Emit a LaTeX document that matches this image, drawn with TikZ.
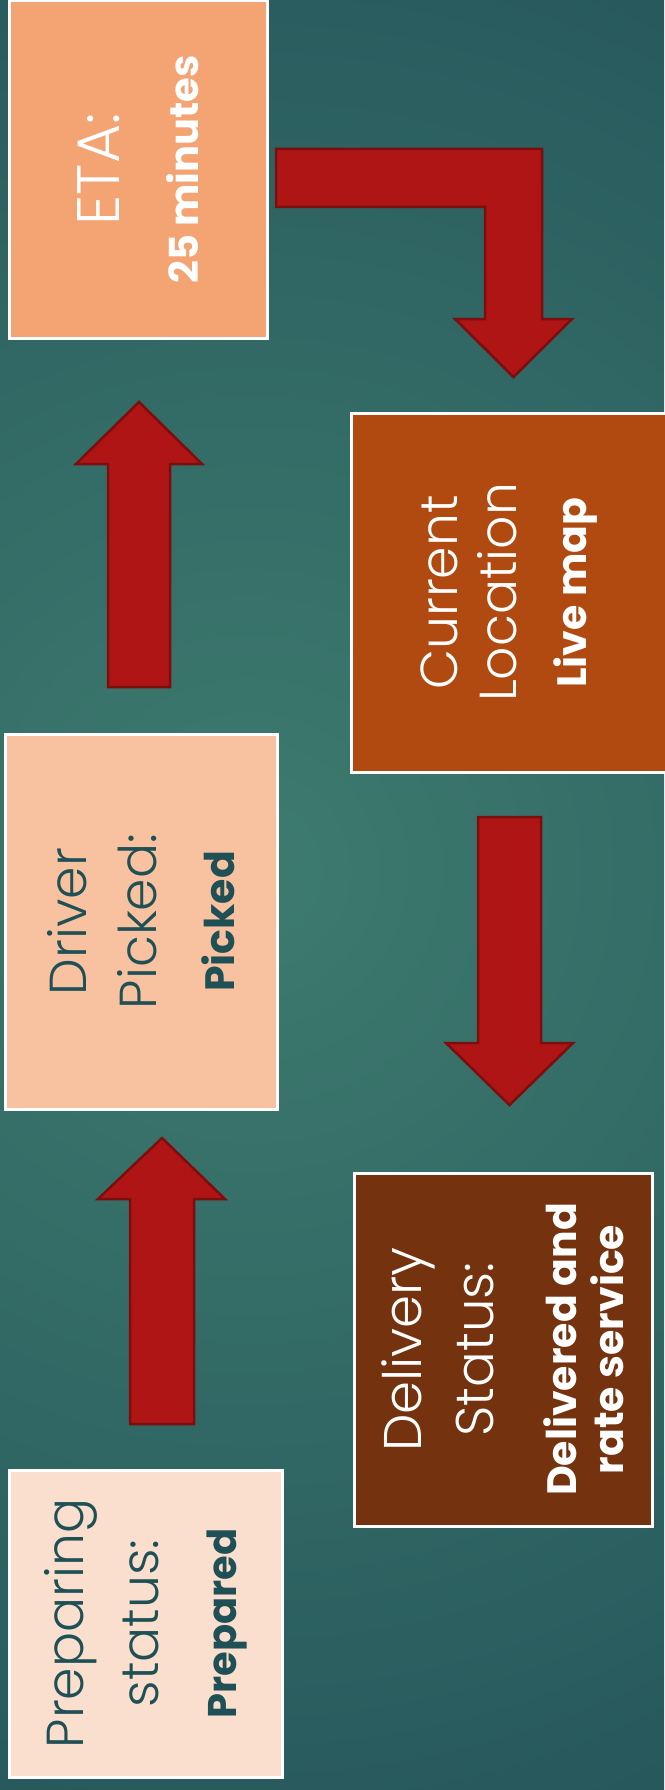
\documentclass[tikz,border=0pt]{standalone}
\usepackage{fontspec}
\setmainfont{Poppins Light}[BoldFont=Poppins Bold]
\definecolor{bgin}{RGB}{62,123,111}
\definecolor{bgout}{RGB}{21,62,78}
\definecolor{etafill}{RGB}{244,163,114}
\definecolor{curfill}{RGB}{176,74,16}
\definecolor{drvfill}{RGB}{248,194,160}
\definecolor{delfill}{RGB}{116,50,14}
\definecolor{prepfill}{RGB}{251,223,206}
\definecolor{darktxt}{RGB}{30,80,86}
\definecolor{arrred}{RGB}{175,21,21}
\definecolor{arrdark}{RGB}{125,14,14}
\begin{document}
\begin{tikzpicture}[x=1pt,y=-1pt,
  box/.style={draw=white, line width=3pt, rotate=90, inner sep=0pt, align=center, anchor=center},
  blockarrow/.style={fill=arrred, draw=arrdark, line width=2.5pt, line join=miter}]
\useasboundingbox (0,0) rectangle (664,1790);
\begin{scope}
  \clip (0,0) rectangle (664,1790);
  \fill[bgout] (0,0) rectangle (664,1790);
  \shade[inner color=bgin, outer color=bgout] (250,870) circle (1750);
\end{scope}

% boxes
\node[box, fill=etafill, text=white, minimum width=337pt, minimum height=258pt,
      font=\fontsize{60}{79}\selectfont] (eta) at (138,169.5)
  {ETA:\\{\bfseries\fontsize{40}{50}\selectfont 25 minutes}};
\node[box, fill=curfill, text=white, minimum width=359pt, minimum height=317pt,
      font=\fontsize{52}{59}\selectfont] (cur) at (509.5,592.5)
  {Current\\Location\\[11pt]{\bfseries\fontsize{41}{49}\selectfont Live map}};
\node[box, fill=drvfill, text=darktxt, minimum width=375pt, minimum height=272pt,
      font=\fontsize{52}{70}\selectfont] (drv) at (141,921.5)
  {Driver\\Picked:\\[8pt]{\bfseries\fontsize{41}{49}\selectfont Picked}};
\node[box, fill=delfill, text=white, minimum width=353pt, minimum height=298pt,
      font=\fontsize{53}{72}\selectfont] (del) at (503,1349.5)
  {Delivery\\Status:\\[11pt]{\bfseries\fontsize{41}{49}\selectfont Delivered and}\\[-25pt]{\bfseries\fontsize{41}{49}\selectfont rate service}};
\node[box, fill=prepfill, text=darktxt, minimum width=307pt, minimum height=273pt,
      font=\fontsize{52}{75}\selectfont] (prep) at (145.5,1623.5)
  {Preparing\\status:\\[3pt]{\bfseries\fontsize{40}{48}\selectfont Prepared}};

% block arrows
\draw[blockarrow] (276,149) -- (542,149) -- (542,319) -- (572,319) -- (513.5,377)
  -- (455,319) -- (485,319) -- (485,207) -- (276,207) -- cycle;
\draw[blockarrow] (108,687) -- (108,464) -- (76,464) -- (139,402) -- (202,464)
  -- (170,464) -- (170,687) -- cycle;
\draw[blockarrow] (478,817) -- (541,817) -- (541,1043) -- (573,1043) -- (509.5,1105)
  -- (446,1043) -- (478,1043) -- cycle;
\draw[blockarrow] (130,1424) -- (130,1199) -- (98,1199) -- (162,1138) -- (225,1199)
  -- (194,1199) -- (194,1424) -- cycle;
\end{tikzpicture}
\end{document}
